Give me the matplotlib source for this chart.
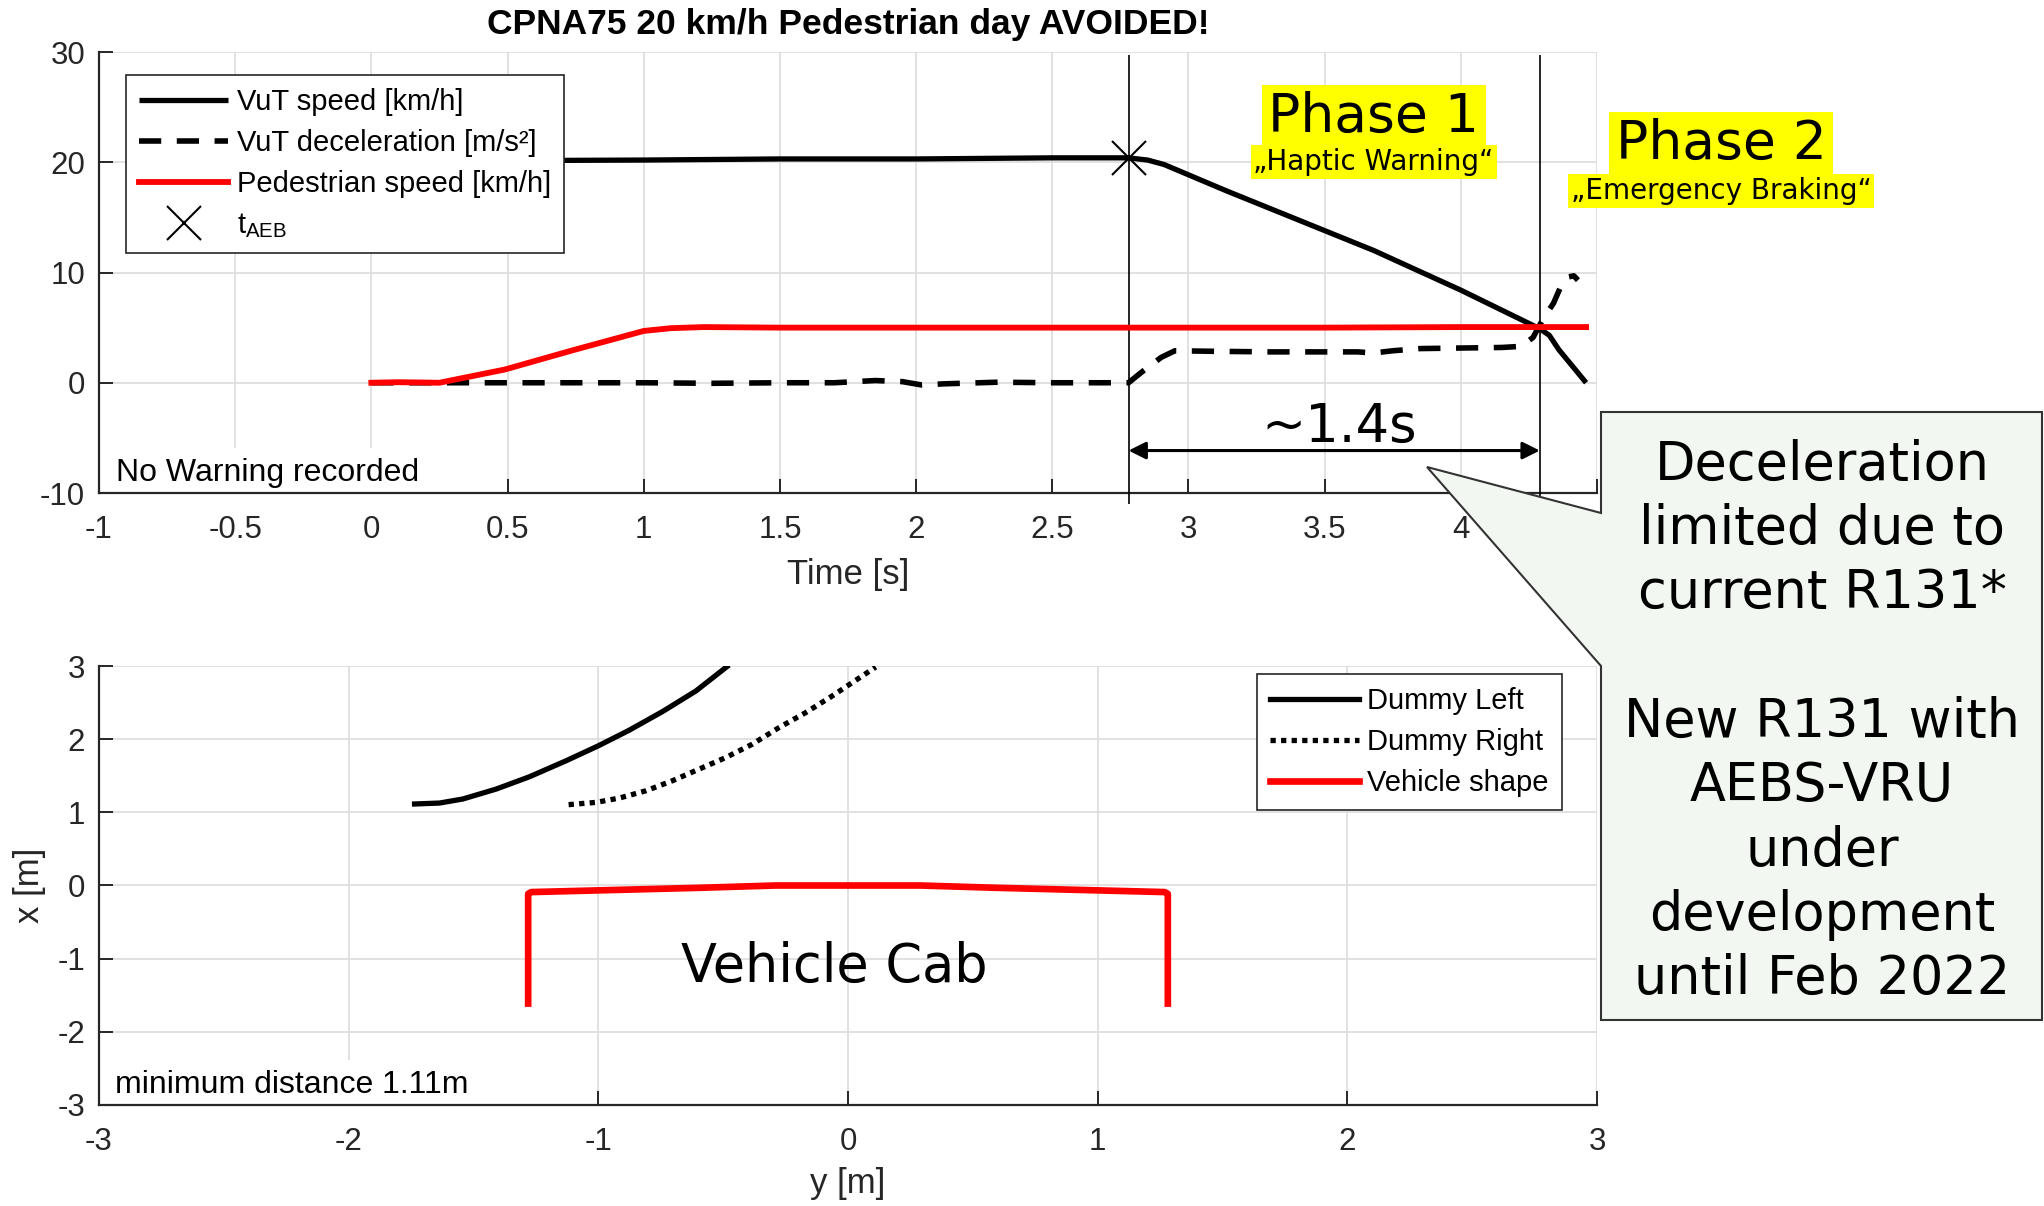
import matplotlib
matplotlib.use('Agg')
import matplotlib.pyplot as plt
from matplotlib.patches import Polygon
from matplotlib.ticker import FormatStrFormatter

plt.rcParams['font.family'] = ['Liberation Sans', 'DejaVu Sans']
plt.rcParams['mathtext.fontset'] = 'custom'
plt.rcParams['mathtext.rm'] = 'Liberation Sans'
plt.rcParams['axes.unicode_minus'] = False

TITLE = "CPNA75 20 km/h Pedestrian day AVOIDED!"

# ---------------- top panel data ----------------
t_speed = [0.0, 0.5, 1.0, 1.5, 2.0, 2.5, 2.78, 2.85, 2.91, 3.14, 3.49, 3.68, 4.0, 4.29, 4.325, 4.36, 4.46]
v_speed = [20.1, 20.15, 20.2, 20.3, 20.3, 20.4, 20.4, 20.2, 19.8, 17.4, 13.9, 12.0, 8.4, 4.9, 4.3, 3.0, 0.0]

t_decel = [0.0, 0.25, 0.5, 0.75, 1.0, 1.25, 1.5, 1.7, 1.85, 1.95, 2.02, 2.1, 2.3, 2.5, 2.65, 2.78,
           2.83, 2.9, 2.95, 3.1, 3.3, 3.5, 3.62, 3.68, 3.75, 3.85, 4.0, 4.15, 4.22, 4.265, 4.30,
           4.34, 4.37, 4.395, 4.415, 4.43]
a_decel = [0.0, 0.0, 0.0, 0.0, 0.0, -0.05, 0.0, 0.0, 0.2, 0.1, -0.2, -0.1, 0.05, 0.0, 0.0, 0.0,
           1.0, 2.3, 2.9, 2.85, 2.8, 2.8, 2.8, 2.7, 2.9, 3.1, 3.15, 3.2, 3.3, 4.1, 5.7,
           7.2, 8.9, 9.6, 9.7, 9.3]

t_ped = [0.0, 0.1, 0.25, 0.49, 0.74, 1.0, 1.1, 1.22, 1.5, 2.0, 2.5, 3.0, 3.5, 4.0, 4.46]
v_ped = [0.0, 0.05, 0.0, 1.2, 2.95, 4.7, 4.95, 5.05, 5.0, 5.0, 5.0, 5.0, 5.0, 5.05, 5.05]

t_aeb = [2.78]
v_aeb = [20.4]
t_events = [2.78, 4.29]          # t_AEB and start of phase 2
event_span = [-11.0, 29.7]
arrow_y = -6.15

# ---------------- bottom panel data ----------------
yl = [-1.736, -1.636, -1.543, -1.409, -1.276, -1.129, -1.0, -0.876, -0.743, -0.609, -0.485]
xl = [1.114, 1.127, 1.182, 1.318, 1.486, 1.705, 1.909, 2.123, 2.377, 2.659, 2.991]

yr = [-1.119, -1.009, -0.916, -0.809, -0.703, -0.596, -0.489, -0.383, -0.276, -0.169, -0.063, 0.017, 0.111]
xr = [1.105, 1.136, 1.195, 1.295, 1.432, 1.591, 1.75, 1.932, 2.159, 2.364, 2.591, 2.773, 2.986]

yv = [-1.281, -1.281, -1.269, -0.6, -0.29, 0.29, 0.6, 1.269, 1.281, 1.281]
xv = [-1.614, -0.114, -0.09, -0.032, 0.0, 0.0, -0.032, -0.09, -0.114, -1.614]

x_ticks_top = [-1, -0.5, 0, 0.5, 1, 1.5, 2, 2.5, 3, 3.5, 4, 4.5]
y_ticks_top = [-10, 0, 10, 20, 30]
ticks_bottom = [-3, -2, -1, 0, 1, 2, 3]

DARK = '#262626'
GRID = '#dedede'

fig = plt.figure(figsize=(20.44, 12.06), dpi=100)
ax1 = fig.add_axes([0.04843, 0.59121, 0.73288, 0.36567])
ax2 = fig.add_axes([0.04843, 0.08375, 0.73288, 0.36401])


def style(ax):
    ax.set_axisbelow(True)
    ax.grid(True, color=GRID, lw=1.3)
    for s in ['top', 'right']:
        ax.spines[s].set_visible(False)
    for s in ['left', 'bottom']:
        ax.spines[s].set_color(DARK)
        ax.spines[s].set_linewidth(1.6)
    ax.tick_params(direction='in', length=10, width=1.4, colors=DARK, labelsize=22.5)
    ax.tick_params(axis='x', pad=16)
    ax.tick_params(axis='y', pad=10)


LEG_KW = dict(borderaxespad=0, fontsize=21, handlelength=3.05, handletextpad=0.3,
              labelspacing=0.45, borderpad=0.45, fancybox=False, framealpha=1, edgecolor=DARK)

# ---------------- top panel ----------------
style(ax1)
l1, = ax1.plot(t_speed, v_speed, color='black', lw=3.8, solid_capstyle='butt', zorder=3)
l2, = ax1.plot(t_decel, a_decel, color='black', lw=4, dashes=(4, 2.8), zorder=3)
l3, = ax1.plot(t_ped, v_ped, color='red', lw=4.2, zorder=3)
l4, = ax1.plot(t_aeb, v_aeb, ls='none', marker='x', ms=25, mew=1.5, color='black', zorder=4)
ax1.vlines(t_events, event_span[0], event_span[1], color='black', lw=1.2, clip_on=False, zorder=2.6)

ax1.set_xlim(-1, 4.5)
ax1.set_ylim(-10, 30)
ax1.set_xticks(x_ticks_top)
ax1.set_yticks(y_ticks_top)
ax1.xaxis.set_major_formatter(FormatStrFormatter('%g'))
ax1.set_xlabel('Time [s]', fontsize=25, color=DARK, labelpad=9)
ax1.set_title(TITLE, fontsize=25.5, fontweight='bold', pad=13)

leg1 = ax1.legend([l1, l2, l3, l4],
                  ['VuT speed [km/h]', 'VuT deceleration [m/s²]', 'Pedestrian speed [km/h]',
                   r'$\mathregular{t_{AEB}}$'],
                  loc='upper left', bbox_to_anchor=(0.018, 0.948), **LEG_KW)
leg1.get_frame().set_linewidth(1.2)

ax1.text(-0.9376, -8.89, 'No Warning recorded', fontsize=23, color='black', va='baseline',
         zorder=2.4, bbox=dict(boxstyle='square,pad=0.3', fc='white', ec='none'))

ax1.annotate('', xy=(t_events[1], arrow_y), xytext=(t_events[0], arrow_y),
             arrowprops=dict(arrowstyle='<|-|>', color='black', lw=2.2, mutation_scale=26,
                             shrinkA=0, shrinkB=0), zorder=5)
ax1.text(3.553, -5.37, '~1.4s', fontsize=38, family='DejaVu Sans', ha='center', va='baseline', zorder=5)

yellow = dict(boxstyle='square,pad=0.12', fc='yellow', ec='none')
ax1.text(3.68, 22.74, 'Phase 1', fontsize=38.5, family='DejaVu Sans', ha='center', va='baseline',
         bbox=yellow, zorder=5)
ax1.text(3.68, 19.3, '\u201eHaptic Warning\u201c', fontsize=20, family='DejaVu Sans', ha='center',
         va='baseline', bbox=dict(boxstyle='square,pad=0.1', fc='yellow', ec='none'), zorder=5)
ax1.text(4.956, 20.3, 'Phase 2', fontsize=38.5, family='DejaVu Sans', ha='center', va='baseline',
         bbox=yellow, zorder=5)
ax1.text(4.956, 16.67, '\u201eEmergency Braking\u201c', fontsize=20, family='DejaVu Sans', ha='center',
         va='baseline', bbox=dict(boxstyle='square,pad=0.1', fc='yellow', ec='none'), zorder=5)

# ---------------- bottom panel ----------------
style(ax2)
b1, = ax2.plot(yl, xl, color='black', lw=3.8, zorder=3)
b2, = ax2.plot(yr, xr, color='black', lw=3.8, ls=(0, (1, 1)), zorder=3)
b3, = ax2.plot(yv, xv, color='red', lw=4.8, zorder=3)
ax2.set_xlim(-3, 3)
ax2.set_ylim(-3, 3)
ax2.set_xticks(ticks_bottom)
ax2.set_yticks(ticks_bottom)
ax2.set_xlabel('y [m]', fontsize=25, color=DARK, labelpad=7)
ax2.set_ylabel('x [m]', fontsize=25, color=DARK, labelpad=8)

leg2 = ax2.legend([b1, b2, b3], ['Dummy Left', 'Dummy Right', 'Vehicle shape'],
                  loc='upper right', bbox_to_anchor=(0.9767, 0.9818), **LEG_KW)
leg2.get_frame().set_linewidth(1.2)

ax2.text(-2.937, -2.837, 'minimum distance 1.11m', fontsize=23, color='black', va='baseline',
         zorder=2.4, bbox=dict(boxstyle='square,pad=0.3', fc='white', ec='none'))
ax2.text(-0.669, -1.319, 'Vehicle Cab', fontsize=37.8, family='DejaVu Sans', ha='left', va='baseline',
         zorder=5)

# ---------------- callout ----------------
W, H = 2044.0, 1206.0
pts_px = [(1601, 412), (2042, 412), (2042, 1020), (1601, 1020), (1601, 666), (1427, 467), (1601, 513)]
pts = [(x / W, 1 - y / H) for x, y in pts_px]
callout = Polygon(pts, closed=True, transform=fig.transFigure, facecolor='#f2f8f1',
                  edgecolor='#333333', lw=1.5, zorder=10)
fig.patches.append(callout)
fig.text(1822 / W, 1 - 722 / H,
         'Deceleration\nlimited due to\ncurrent R131*\n\nNew R131 with\nAEBS-VRU\nunder\ndevelopment\nuntil Feb 2022',
         fontsize=37.8, family='DejaVu Sans', ha='center', va='center', linespacing=1.3, zorder=11)

fig.savefig('out.png', dpi=100, facecolor='white')
